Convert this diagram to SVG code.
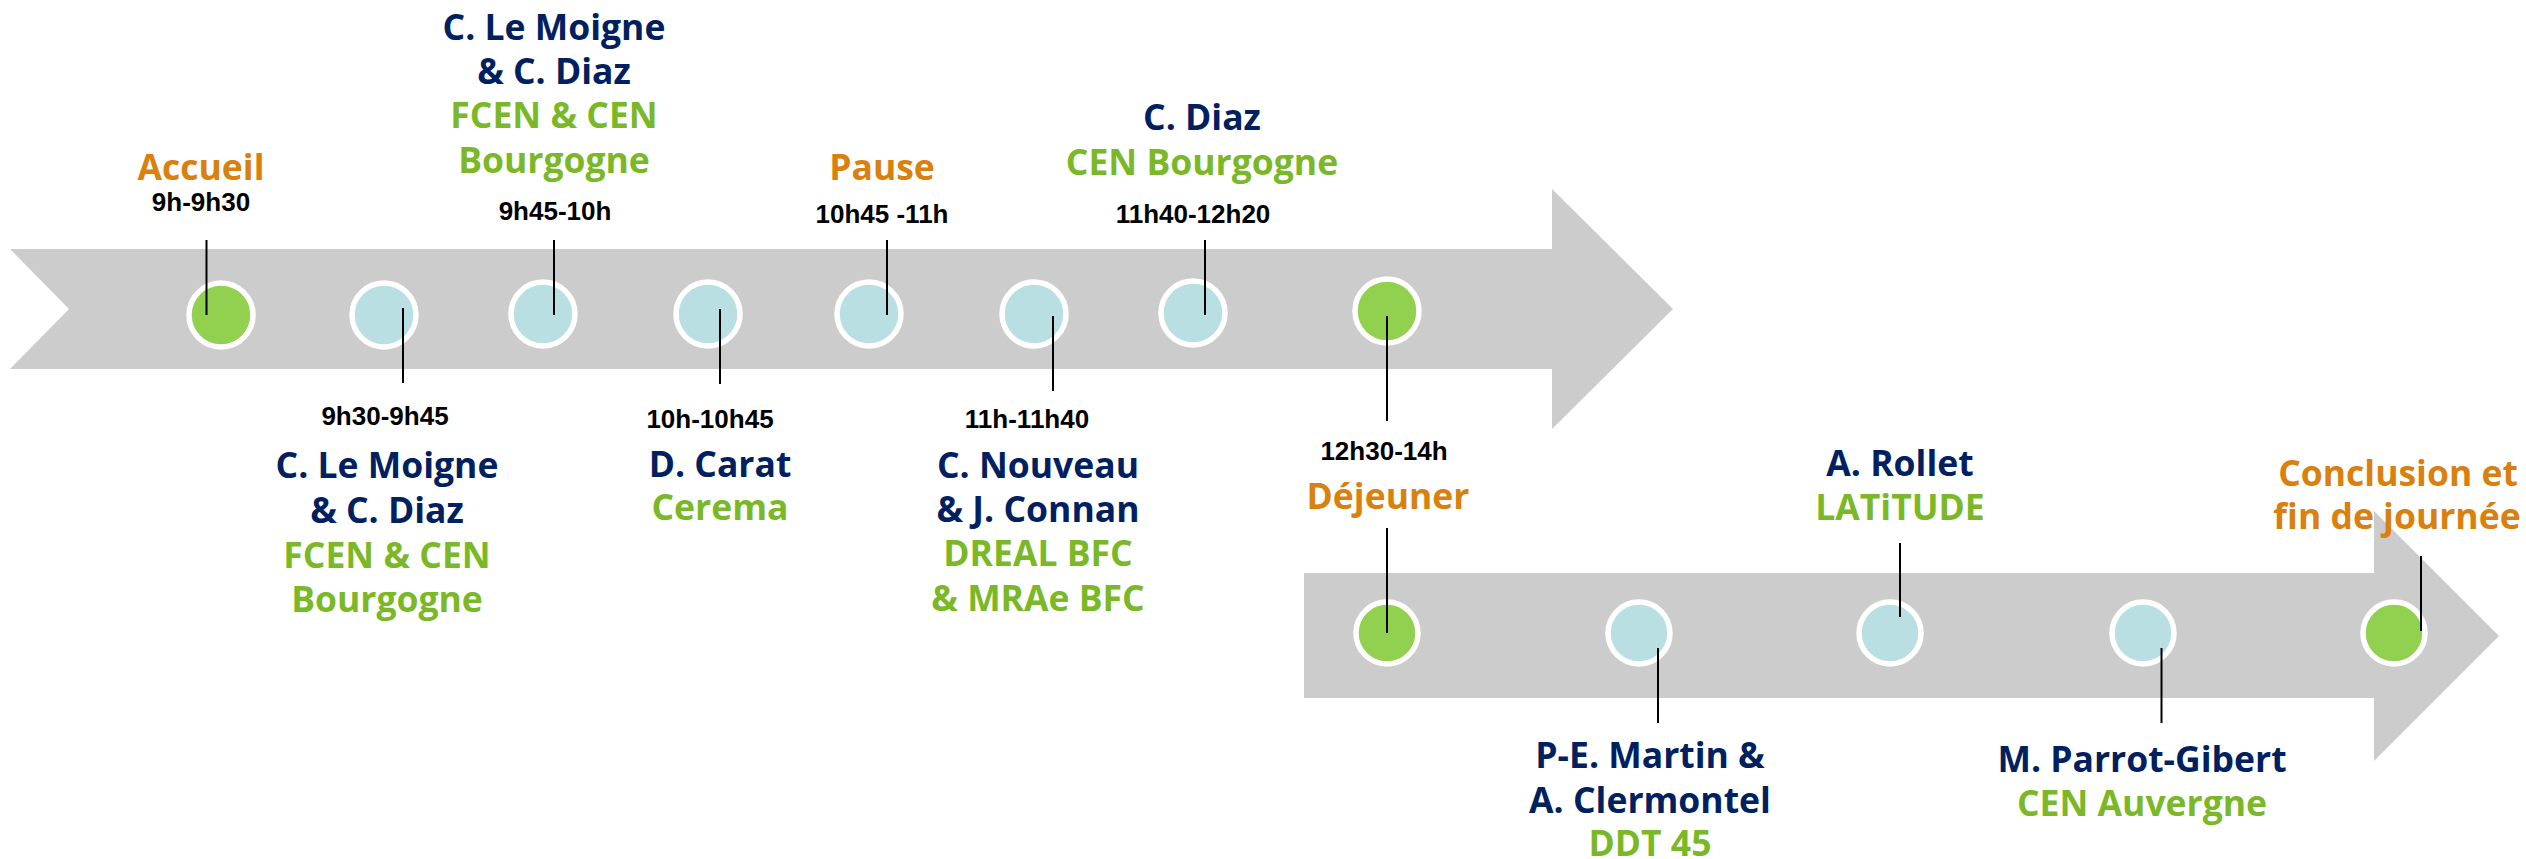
<svg xmlns="http://www.w3.org/2000/svg" width="2526" height="859" viewBox="0 0 2526 859">
<style>
.arrow{fill:#cccccc}
.g{fill:#92d050;stroke:#ffffff;stroke-width:5.5}
.b{fill:#badfe3;stroke:#ffffff;stroke-width:5.5}
.ln{stroke:#000000;stroke-width:2;fill:none}
text{font-family:"Open Sans","Noto Sans","DejaVu Sans",sans-serif;font-weight:700;text-anchor:middle}
.t{font-family:"Liberation Sans",Arial,sans-serif;font-size:26px;fill:#000000}
.n{font-size:35.5px;fill:#002060}
.o{font-size:35.5px;fill:#7ab828}
.e{font-size:35.5px;fill:#d9800f}
</style>
<g id="arrows">
<polygon class="arrow" points="10,249 1552,249 1552,189 1673,309 1552,429 1552,369 10,369 69,309"/>
<polygon class="arrow" points="1304,573 2374,573 2374,511 2499,636 2374,761 2374,698 1304,698"/>
</g>
<g id="nodes">
<circle id="n1" class="g" cx="221" cy="315" r="32"/>
<circle id="n2" class="b" cx="384" cy="315" r="32"/>
<circle id="n3" class="b" cx="543" cy="314" r="32"/>
<circle id="n4" class="b" cx="708" cy="314" r="32"/>
<circle id="n5" class="b" cx="869" cy="314" r="32"/>
<circle id="n6" class="b" cx="1034" cy="314" r="32"/>
<circle id="n7" class="b" cx="1193" cy="313" r="32"/>
<circle id="n8" class="g" cx="1387" cy="311" r="32"/>
<circle id="n9" class="g" cx="1387" cy="633" r="31"/>
<circle id="n10" class="b" cx="1639" cy="633" r="31"/>
<circle id="n11" class="b" cx="1890" cy="633" r="31"/>
<circle id="n12" class="b" cx="2143" cy="633" r="31"/>
<circle id="n13" class="g" cx="2394" cy="633" r="31"/>
</g>
<g id="connectors">
<line class="ln" x1="206.5" y1="240" x2="206.5" y2="315"/>
<line class="ln" x1="403" y1="308" x2="403" y2="383"/>
<line class="ln" x1="554" y1="240" x2="554" y2="315"/>
<line class="ln" x1="720" y1="309" x2="720" y2="384"/>
<line class="ln" x1="887" y1="240" x2="887" y2="315"/>
<line class="ln" x1="1053" y1="316" x2="1053" y2="391"/>
<line class="ln" x1="1205" y1="240" x2="1205" y2="315"/>
<line class="ln" x1="1387" y1="316" x2="1387" y2="421"/>
<line class="ln" x1="1387" y1="528" x2="1387" y2="633"/>
<line class="ln" x1="1658" y1="648" x2="1658" y2="723"/>
<line class="ln" x1="1900" y1="543" x2="1900" y2="617"/>
<line class="ln" x1="2161.5" y1="648" x2="2161.5" y2="723"/>
<line class="ln" x1="2421" y1="556" x2="2421" y2="631"/>
</g>
<g id="labels">
<text class="e" x="201" y="180">Accueil</text>
<text class="t" x="201" y="211">9h-9h30</text>

<text class="n" x="554" y="40">C. Le Moigne</text>
<text class="n" x="554" y="84">&amp; C. Diaz</text>
<text class="o" x="554" y="128">FCEN &amp; CEN</text>
<text class="o" x="554" y="173">Bourgogne</text>
<text class="t" x="555" y="220">9h45-10h</text>

<text class="e" x="882" y="180">Pause</text>
<text class="t" x="882" y="223">10h45 -11h</text>

<text class="n" x="1202" y="130">C. Diaz</text>
<text class="o" x="1202" y="175">CEN Bourgogne</text>
<text class="t" x="1193" y="223">11h40-12h20</text>

<text class="t" x="385" y="425">9h30-9h45</text>
<text class="n" x="387" y="478">C. Le Moigne</text>
<text class="n" x="387" y="523">&amp; C. Diaz</text>
<text class="o" x="387" y="568">FCEN &amp; CEN</text>
<text class="o" x="387" y="612">Bourgogne</text>

<text class="t" x="710" y="428">10h-10h45</text>
<text class="n" x="720" y="477">D. Carat</text>
<text class="o" x="720" y="520">Cerema</text>

<text class="t" x="1027" y="428">11h-11h40</text>
<text class="n" x="1038" y="478">C. Nouveau</text>
<text class="n" x="1038" y="522">&amp; J. Connan</text>
<text class="o" x="1038" y="566">DREAL BFC</text>
<text class="o" x="1038" y="611">&amp; MRAe BFC</text>

<text class="t" x="1384" y="460">12h30-14h</text>
<text class="e" x="1388" y="509">Déjeuner</text>

<text class="n" x="1900" y="476">A. Rollet</text>
<text class="o" x="1900" y="520">LATiTUDE</text>

<text class="e" x="2398" y="486">Conclusion et</text>
<text class="e" x="2397" y="529">fin de journée</text>

<text class="n" x="1650" y="768">P-E. Martin &amp;</text>
<text class="n" x="1650" y="813">A. Clermontel</text>
<text class="o" x="1650" y="856">DDT 45</text>

<text class="n" x="2142" y="772">M. Parrot-Gibert</text>
<text class="o" x="2142" y="816">CEN Auvergne</text>
</g>
</svg>
